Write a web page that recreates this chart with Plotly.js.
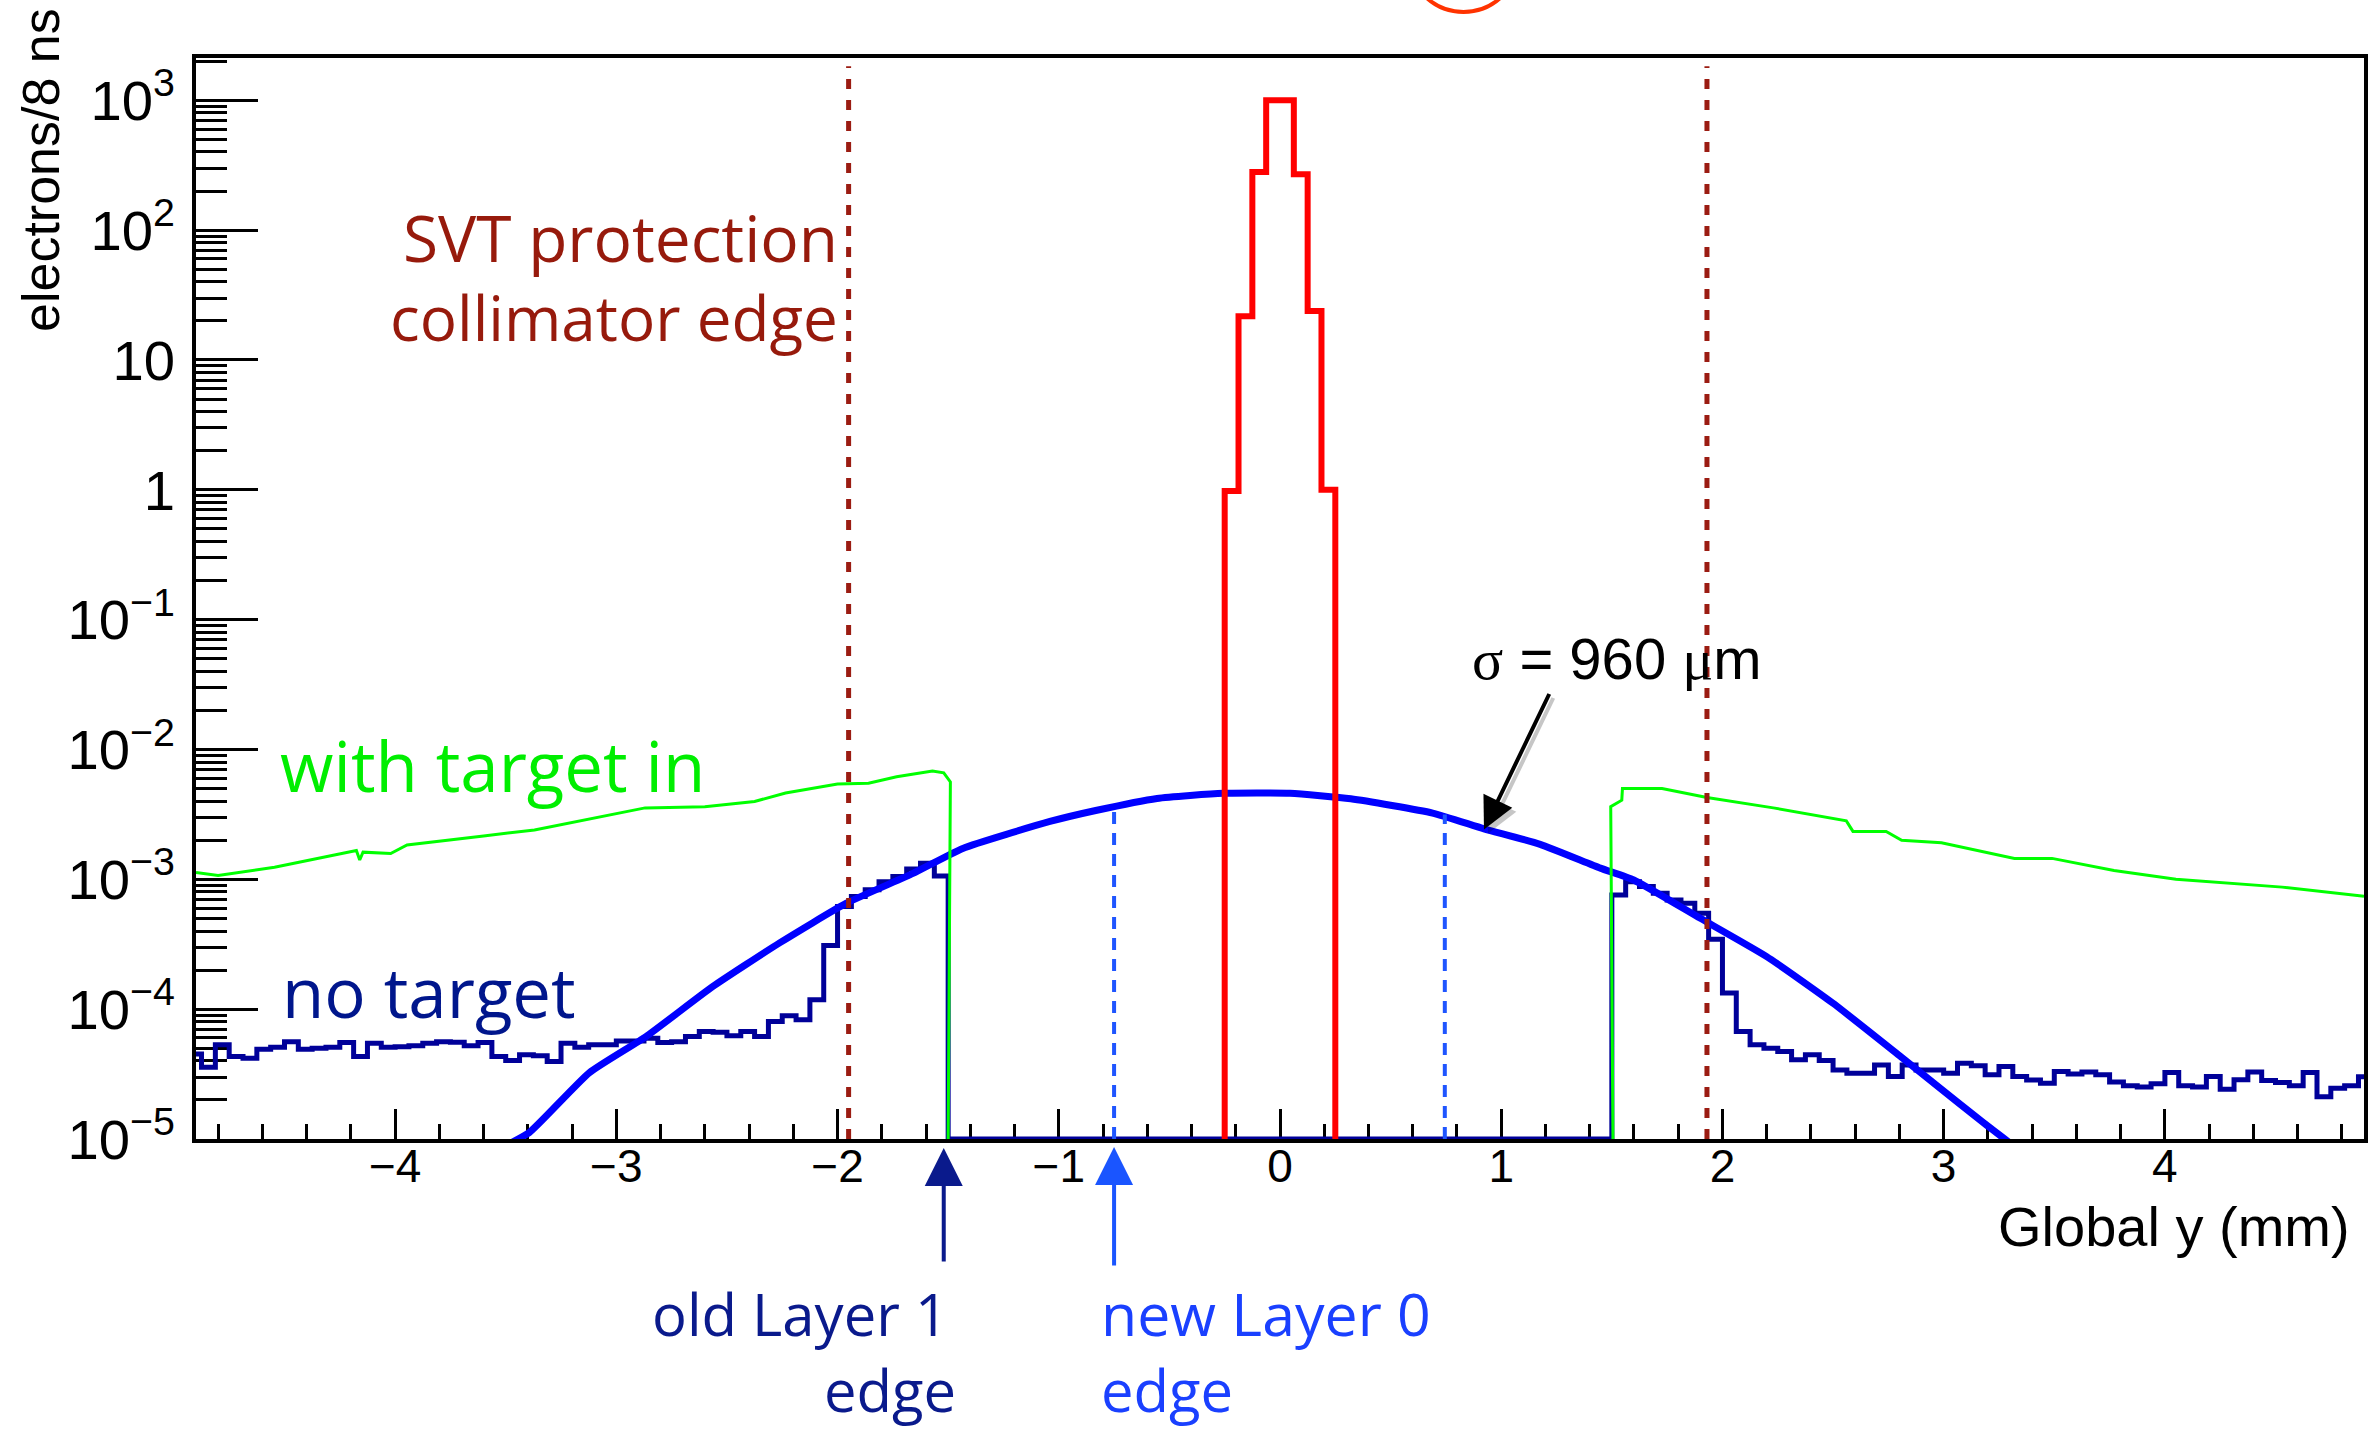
<!DOCTYPE html>
<html>
<head>
<meta charset="utf-8">
<script src="https://cdn.plot.ly/plotly-3.0.1.min.js"></script>
<style>
html,body{margin:0;padding:0;background:#ffffff;}
#chart{width:2375px;height:1429px;}
</style>
</head>
<body>
<div id="chart"></div>
<script>
// ---------------- DATA ----------------
// Histogram binning (160 bins from -5 to 5 mm, width 0.0625 mm); axis shows -4.9 .. 4.9
const binWidth = 0.0625;
const xAxisRange = [-4.9, 4.9];
const yFloor = 1e-5;            // bottom of the log axis, where empty bins are drawn

// "no target" (dark blue histogram), left part: first partial bin starts at -4.9,
// then full bins from -4.875 up to -1.5
const noTargetLeftStart = -4.9;
const noTargetLeftFirstEdge = -4.875;
const noTargetLeft = [
  4.51e-5, 3.57e-5, 5.31e-5, 4.32e-5, 4.19e-5, 4.92e-5, 5.09e-5, 5.62e-5, 4.92e-5, 5.01e-5,
  5.09e-5, 5.53e-5, 4.32e-5, 5.47e-5, 5.09e-5, 5.13e-5, 5.22e-5, 5.47e-5, 5.62e-5, 5.56e-5,
  5.22e-5, 5.53e-5, 4.32e-5, 4.02e-5, 4.45e-5, 4.38e-5, 3.95e-5, 5.47e-5, 5.09e-5, 5.31e-5,
  5.31e-5, 5.69e-5, 5.69e-5, 5.97e-5, 5.53e-5, 5.62e-5, 6.15e-5, 6.73e-5, 6.64e-5, 6.24e-5,
  6.73e-5, 6.15e-5, 8.04e-5, 8.89e-5, 8.28e-5, 1.18e-4, 3.09e-4, 6.17e-4, 7.36e-4, 8.32e-4,
  9.59e-4, 1.05e-3, 1.20e-3, 1.33e-3, 1.06e-3
];
// right part: full bins from 1.5, last bin partial ending at 4.9
const noTargetRightStart = 1.5;
const noTargetRightEnd = 4.9;
const noTargetRight = [
  7.59e-4, 9.59e-4, 8.79e-4, 7.82e-4, 6.93e-4, 6.55e-4, 5.48e-4, 3.46e-4, 1.33e-4, 6.73e-5,
  5.31e-5, 5.01e-5, 4.72e-5, 4.07e-5, 4.45e-5, 4.02e-5, 3.40e-5, 3.21e-5, 3.21e-5, 3.72e-5,
  3.03e-5, 3.72e-5, 3.40e-5, 3.40e-5, 3.21e-5, 3.84e-5, 3.66e-5, 3.12e-5, 3.61e-5, 3.03e-5,
  2.85e-5, 2.69e-5, 3.31e-5, 3.16e-5, 3.28e-5, 3.12e-5, 2.75e-5, 2.57e-5, 2.51e-5, 2.66e-5,
  3.25e-5, 2.57e-5, 2.51e-5, 3.03e-5, 2.42e-5, 2.86e-5, 3.28e-5, 2.82e-5, 2.72e-5, 2.57e-5,
  3.25e-5, 2.12e-5, 2.46e-5, 2.57e-5, 3.01e-5
];

// Beam profile (red histogram): 8 bins starting at -0.25
const beamFirstEdge = -0.25;
const beamCounts = [0.98, 21.7, 280, 1000, 1000, 269, 23.8, 1.0];

// Gaussian-like profile, sigma = 960 um (blue curve)
const fitX = [-3.50, -3.394, -3.122, -2.866, -2.565, -2.262, -1.96, -1.659, -1.434, -1.04,
              -0.833, -0.556, -0.256, 0.045, 0.32, 0.69, 0.922, 1.176, 1.448, 1.599,
              1.90, 2.2, 2.5, 2.805, 2.956, 3.183, 3.30];
const fitY = [8.9e-6, 1.12e-5, 3.24e-5, 6.15e-5, 1.49e-4, 3.24e-4, 6.55e-4, 1.11e-3, 1.73e-3, 2.79e-3,
              3.39e-3, 4.2e-3, 4.6e-3, 4.6e-3, 4.17e-3, 3.24e-3, 2.45e-3, 1.86e-3, 1.22e-3, 9.89e-4,
              5.01e-4, 2.54e-4, 1.11e-4, 4.32e-5, 2.69e-5, 1.32e-5, 9.3e-6];

// "with target in" (green curve), left and right of the gap
const targetLeftX = [-4.9, -4.80, -4.545, -4.175, -4.16, -4.145, -4.02, -3.946, -3.6, -3.37,
                     -2.87, -2.6, -2.375, -2.235, -2.0, -1.86, -1.733, -1.571, -1.52, -1.49, -1.50];
const targetLeftY = [1.13e-3, 1.07e-3, 1.24e-3, 1.67e-3, 1.41e-3, 1.62e-3, 1.58e-3, 1.84e-3, 2.16e-3, 2.40e-3,
                     3.55e-3, 3.63e-3, 3.98e-3, 4.62e-3, 5.43e-3, 5.50e-3, 6.17e-3, 6.84e-3, 6.61e-3, 5.62e-3, 1e-5];
const targetRightX = [1.505, 1.495, 1.545, 1.548, 1.727, 1.93, 2.23, 2.56, 2.59, 2.74,
                      2.81, 2.99, 3.32, 3.49, 3.77, 4.05, 4.53, 4.9];
const targetRightY = [1e-5, 3.63e-3, 4.07e-3, 5.01e-3, 5.01e-3, 4.27e-3, 3.55e-3, 2.82e-3, 2.34e-3, 2.34e-3,
                      2.00e-3, 1.91e-3, 1.45e-3, 1.45e-3, 1.17e-3, 1.0e-3, 8.71e-4, 7.41e-4];

// Marker lines
const collimatorEdges = [-1.95, 1.93];
const collimatorTop = 1830;
const layer0Edges = [-0.75, 0.745];
const layer0Tops = [3.47e-3, 3.16e-3];
const oldLayer1Edge = -1.52;
const sigmaPoint = {x: 0.922, y: 2.42e-3};

// Text
const yTitle = 'electrons/8 ns';
const xTitle = 'Global y (mm)';
const sigmaLabel = '<span style="font-family:\'Liberation Serif\'">σ</span> = 960 <span style="font-family:\'Liberation Serif\'">μ</span>m';

// ---------------- BUILD TRACES ----------------
const navyX = [], navyY = [];
navyX.push(noTargetLeftStart); navyY.push(noTargetLeft[0]);
for (let i = 1; i < noTargetLeft.length; i++) {
  navyX.push(noTargetLeftFirstEdge + binWidth * (i - 1)); navyY.push(noTargetLeft[i]);
}
const leftEnd = noTargetLeftFirstEdge + binWidth * (noTargetLeft.length - 1);
navyX.push(leftEnd); navyY.push(yFloor);
for (let i = 0; i < noTargetRight.length; i++) {
  navyX.push(noTargetRightStart + binWidth * i); navyY.push(noTargetRight[i]);
}
navyX.push(noTargetRightEnd); navyY.push(noTargetRight[noTargetRight.length - 1]);

const redX = [beamFirstEdge], redY = [yFloor];
for (let i = 0; i < beamCounts.length; i++) {
  redX.push(beamFirstEdge + binWidth * i); redY.push(beamCounts[i]);
}
redX.push(beamFirstEdge + binWidth * beamCounts.length); redY.push(yFloor);

const traces = [];
traces.push({x: navyX, y: navyY, mode: 'lines', line: {shape: 'hv', color: '#000099', width: 5}, hoverinfo: 'skip'});
traces.push({x: fitX, y: fitY, mode: 'lines', line: {shape: 'spline', smoothing: 0.5, color: '#0000ff', width: 7}, hoverinfo: 'skip'});
traces.push({x: targetLeftX, y: targetLeftY, mode: 'lines', line: {color: '#00ff00', width: 3}, hoverinfo: 'skip'});
traces.push({x: targetRightX, y: targetRightY, mode: 'lines', line: {color: '#00ff00', width: 3}, hoverinfo: 'skip'});
traces.push({x: redX, y: redY, mode: 'lines', line: {shape: 'hv', color: '#ff0000', width: 6}, hoverinfo: 'skip'});
layer0Edges.forEach((e, i) => {
  traces.push({x: [e, e], y: [yFloor, layer0Tops[i]], mode: 'lines', line: {color: '#1f55ff', width: 4, dash: '12px,9px'}, hoverinfo: 'skip'});
});
collimatorEdges.forEach(e => {
  traces.push({x: [e, e], y: [yFloor, collimatorTop], mode: 'lines', line: {color: '#9b1c12', width: 5, dash: '10px,11px'}, hoverinfo: 'skip'});
});

// ---------------- LAYOUT ----------------
const L = 196, R = 2364, T = 58, B = 1139;
const W = 2375, H = 1429;
const px = v => (v - L) / (R - L);
const py = v => (B - v) / (B - T);

const slideFont = "'Open Sans', Lato, sans-serif";
const rootFont = "'Liberation Sans', Arial, sans-serif";

const annotations = [
  {text: 'SVT protection', xref: 'paper', yref: 'paper', x: px(840), y: py(237), xanchor: 'right', yanchor: 'middle', showarrow: false, font: {family: slideFont, size: 64, color: '#971a0c'}},
  {text: 'collimator edge', xref: 'paper', yref: 'paper', x: px(840), y: py(317), xanchor: 'right', yanchor: 'middle', showarrow: false, font: {family: slideFont, size: 62, color: '#971a0c'}},
  {text: 'with target in', xref: 'paper', yref: 'paper', x: px(278), y: py(765), xanchor: 'left', yanchor: 'middle', showarrow: false, font: {family: slideFont, size: 69, color: '#00ee00'}},
  {text: 'no target', xref: 'paper', yref: 'paper', x: px(280), y: py(991), xanchor: 'left', yanchor: 'middle', showarrow: false, font: {family: slideFont, size: 69, color: '#00168c'}},
  {text: 'old Layer 1', xref: 'paper', yref: 'paper', x: px(950), y: py(1313), xanchor: 'right', yanchor: 'middle', showarrow: false, font: {family: slideFont, size: 58, color: '#0a1a8c'}},
  {text: 'edge', xref: 'paper', yref: 'paper', x: px(958), y: py(1389), xanchor: 'right', yanchor: 'middle', showarrow: false, font: {family: slideFont, size: 58, color: '#0a1a8c'}},
  {text: 'new Layer 0', xref: 'paper', yref: 'paper', x: px(1099), y: py(1313), xanchor: 'left', yanchor: 'middle', showarrow: false, font: {family: slideFont, size: 59, color: '#1a40ff'}},
  {text: 'edge', xref: 'paper', yref: 'paper', x: px(1099), y: py(1389), xanchor: 'left', yanchor: 'middle', showarrow: false, font: {family: slideFont, size: 58, color: '#1a40ff'}},
  // sigma arrow shadow + arrow + label
  {text: '', xref: 'x', yref: 'y', x: sigmaPoint.x, y: Math.log10(sigmaPoint.y), ax: 66, ay: -137, xshift: 4, yshift: -4, showarrow: true, arrowhead: 2, arrowsize: 1.6, arrowwidth: 4, arrowcolor: 'rgba(0,0,0,0.22)', standoff: 0},
  {text: '', xref: 'x', yref: 'y', x: sigmaPoint.x, y: Math.log10(sigmaPoint.y), ax: 66, ay: -137, showarrow: true, arrowhead: 2, arrowsize: 1.6, arrowwidth: 4, arrowcolor: '#000000', standoff: 0},
  {text: sigmaLabel, xref: 'paper', yref: 'paper', x: px(1470), y: py(659), xanchor: 'left', yanchor: 'middle', showarrow: false, font: {family: rootFont, size: 58, color: '#000000'}},
  // layer edge arrows
  {text: '', xref: 'x', yref: 'paper', x: oldLayer1Edge, y: py(1148), ax: 0, ay: 115, showarrow: true, arrowhead: 2, arrowsize: 1.9, arrowwidth: 4, arrowcolor: '#0a1a8c', standoff: 0},
  {text: '', xref: 'x', yref: 'paper', x: layer0Edges[0], y: py(1147), ax: 0, ay: 120, showarrow: true, arrowhead: 2, arrowsize: 1.9, arrowwidth: 4, arrowcolor: '#1a55ff', standoff: 0},
  // axis titles (ROOT style placement)
  {text: xTitle, xref: 'paper', yref: 'paper', x: px(2352), y: py(1226), xanchor: 'right', yanchor: 'middle', showarrow: false, font: {family: rootFont, size: 56, color: '#000000'}},
  {text: yTitle, xref: 'paper', yref: 'paper', x: px(41), y: py(170), xanchor: 'center', yanchor: 'middle', textangle: -90, showarrow: false, font: {family: rootFont, size: 52, color: '#000000'}}
];

const shapes = [
  // red circle from the slide, mostly cut off at the top
  {type: 'circle', xref: 'paper', yref: 'paper', x0: px(1408), x1: px(1519), y0: py(12), y1: py(-100), line: {color: '#ff3300', width: 4}, fillcolor: 'rgba(0,0,0,0)'}
];

const layout = {
  width: W, height: H,
  margin: {l: L, r: W - R, t: T, b: H - B, pad: 0},
  paper_bgcolor: '#ffffff', plot_bgcolor: '#ffffff',
  showlegend: false,
  font: {family: rootFont, size: 45, color: '#000000'},
  xaxis: {
    range: xAxisRange, autorange: false,
    showgrid: false, zeroline: false,
    showline: true, linecolor: '#000000', linewidth: 4, mirror: true,
    layer: 'below traces',
    ticks: 'inside', ticklen: 30, tickwidth: 3, tickcolor: '#000000',
    dtick: 1, tick0: 0,
    tickfont: {family: rootFont, size: 46, color: '#000000'},
    ticklabelstandoff: -16,
    minor: {ticks: 'inside', ticklen: 15, tickwidth: 3, tickcolor: '#000000', dtick: 0.2, tick0: 0, showgrid: false}
  },
  yaxis: {
    type: 'log', range: [-5, 3.326], autorange: false,
    showgrid: false, zeroline: false,
    showline: true, linecolor: '#000000', linewidth: 4, mirror: true,
    layer: 'below traces',
    ticks: 'inside', ticklen: 62, tickwidth: 3, tickcolor: '#000000',
    dtick: 1, exponentformat: 'power',
    tickfont: {family: rootFont, size: 45, color: '#000000'},
    ticklabelstandoff: 8,
    minor: {ticks: 'inside', ticklen: 31, tickwidth: 3, tickcolor: '#000000', dtick: 'D1', showgrid: false}
  },
  annotations: annotations,
  shapes: shapes
};

Plotly.newPlot('chart', traces, layout, {displayModeBar: false, staticPlot: true});
</script>
</body>
</html>
